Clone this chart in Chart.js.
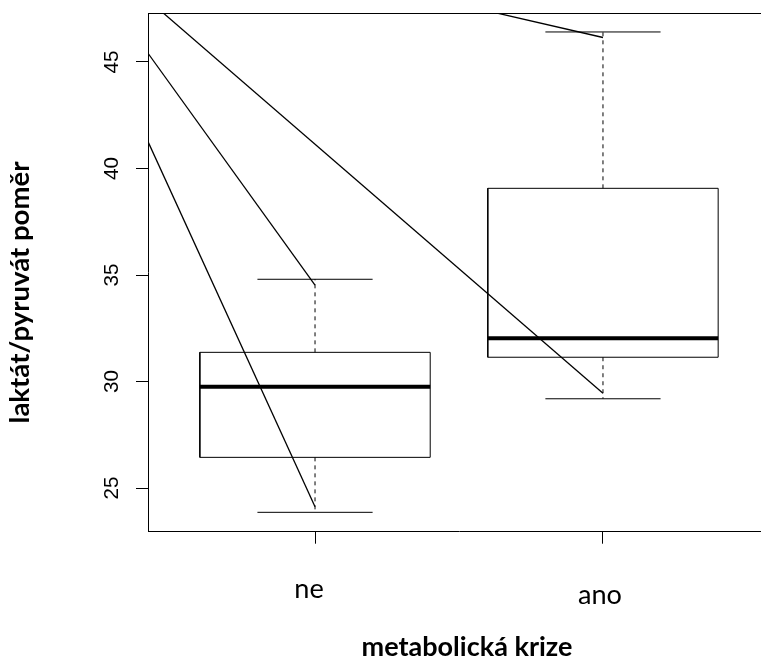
<!DOCTYPE html>
<html>
<head>
<meta charset="utf-8">
<script src="https://cdn.jsdelivr.net/npm/chart.js@4/dist/chart.umd.min.js"></script>
<style>
  html, body { margin: 0; padding: 0; overflow: hidden; background: #fff; }
  #wrap { width: 790px; height: 664px; }
</style>
</head>
<body>
<div id="wrap"><canvas id="chart" width="790" height="664"></canvas></div>
<script>
// Groups and five-number summaries of the lactate/pyruvate ratio
const categories   = ['ne', 'ano'];
const whiskerLow   = [23.86, 29.19];
const quartile1    = [26.44, 31.14];
const medians      = [29.76, 32.03];
const quartile3    = [31.37, 39.07];
const whiskerHigh  = [34.80, 46.41];

// Axis ticks and value range
const yTicks = [25, 30, 35, 40, 45];
const yRange = [22.95, 47.30];
const xRange = [0.42, 2.58];

// Straight connector lines: start value at x = 0, end group and value
const connectorStart = [53.67, 53.29, 52.83, 52.38];
const connectorGroup = [0, 0, 1, 1];
const connectorEnd   = [24.12, 34.53, 29.45, 46.15];

const xTitle = 'metabolická krize';
const yTitle = 'laktát/pyruvát poměr';

const BOX_HALF = 0.4;
const CAP_HALF = 0.2;

function seg(points, extra) {
  return Object.assign({
    data: points,
    showLine: true,
    pointRadius: 0,
    pointHoverRadius: 0,
    borderColor: '#000',
    borderWidth: 1,
    fill: false,
    tension: 0
  }, extra || {});
}

const datasets = [];
categories.forEach((name, i) => {
  const c = i + 1;
  // box
  datasets.push(seg([
    { x: c - BOX_HALF, y: quartile1[i] }, { x: c + BOX_HALF, y: quartile1[i] },
    { x: c + BOX_HALF, y: quartile3[i] }, { x: c - BOX_HALF, y: quartile3[i] },
    { x: c - BOX_HALF, y: quartile1[i] }
  ]));
  // median
  datasets.push(seg([{ x: c - BOX_HALF, y: medians[i] }, { x: c + BOX_HALF, y: medians[i] }], { borderWidth: 4 }));
  // whiskers
  datasets.push(seg([{ x: c, y: quartile3[i] }, { x: c, y: whiskerHigh[i] }], { borderDash: [4, 4] }));
  datasets.push(seg([{ x: c, y: quartile1[i] }, { x: c, y: whiskerLow[i] }], { borderDash: [4, 4] }));
  // caps
  datasets.push(seg([{ x: c - CAP_HALF, y: whiskerHigh[i] }, { x: c + CAP_HALF, y: whiskerHigh[i] }]));
  datasets.push(seg([{ x: c - CAP_HALF, y: whiskerLow[i] }, { x: c + CAP_HALF, y: whiskerLow[i] }]));
});
connectorStart.forEach((v, k) => {
  datasets.push(seg([{ x: 0, y: v }, { x: connectorGroup[k] + 1, y: connectorEnd[k] }], { borderWidth: 1.3 }));
});

// font size that makes `text` span `width` pixels
function fitSize(ctx, text, weight, family, width) {
  ctx.font = (weight ? weight + ' ' : '') + '100px ' + family;
  return 100 * width / ctx.measureText(text).width;
}

const LATO = 'Lato, "Open Sans", sans-serif';
const ARIAL = '"Liberation Sans", Arial, sans-serif';

const frameAndText = {
  id: 'frameAndText',
  afterDraw(chart) {
    const { ctx, chartArea: a, scales } = chart;
    const x = scales.x, y = scales.y;
    ctx.save();
    // top edge of the plot frame
    ctx.strokeStyle = '#000';
    ctx.lineWidth = 1;
    ctx.beginPath();
    const ty = Math.round(a.top) + 0.5;
    ctx.moveTo(a.left, ty);
    ctx.lineTo(a.right, ty);
    ctx.stroke();

    ctx.fillStyle = '#000';
    // y tick labels, vertical
    const tickSize = fitSize(ctx, '35', '', ARIAL, 23);
    ctx.font = tickSize.toFixed(2) + 'px ' + ARIAL;
    ctx.textAlign = 'center';
    ctx.textBaseline = 'alphabetic';
    yTicks.forEach(v => {
      ctx.save();
      ctx.translate(a.left - 30, y.getPixelForValue(v));
      ctx.rotate(-Math.PI / 2);
      ctx.fillText(String(v), 0, 0);
      ctx.restore();
    });

    // group labels
    const nudge = [{ dx: -6, dy: 66 }, { dx: -3, dy: 72 }];
    const catSize = fitSize(ctx, 'ano', '', LATO, 44);
    ctx.font = catSize.toFixed(2) + 'px ' + LATO;
    categories.forEach((name, i) => {
      ctx.fillText(name, x.getPixelForValue(i + 1) + nudge[i].dx, a.bottom + nudge[i].dy);
    });

    // axis titles
    const xs = fitSize(ctx, xTitle, 'bold', LATO, 211);
    ctx.font = 'bold ' + xs.toFixed(2) + 'px ' + LATO;
    ctx.fillText(xTitle, 467, 656);

    const ys = fitSize(ctx, yTitle, 'bold', LATO, 262);
    ctx.font = 'bold ' + ys.toFixed(2) + 'px ' + LATO;
    ctx.save();
    ctx.translate(28.5, 292.5);
    ctx.rotate(-Math.PI / 2);
    ctx.fillText(yTitle, 0, 0);
    ctx.restore();

    ctx.restore();
  }
};

const axisGrid = { drawOnChartArea: false, drawTicks: true, tickLength: 12, color: '#000', lineWidth: 1 };

new Chart(document.getElementById('chart'), {
  type: 'scatter',
  data: { datasets },
  options: {
    responsive: false,
    animation: false,
    devicePixelRatio: 1,
    events: [],
    layout: { padding: { left: 136, top: 13, right: 20, bottom: 120.3 } },
    plugins: { legend: { display: false }, tooltip: { enabled: false } },
    scales: {
      x: {
        type: 'linear',
        min: xRange[0], max: xRange[1],
        afterBuildTicks: s => { s.ticks = categories.map((_, i) => ({ value: i + 1 })); },
        afterFit: s => { s.height = 12; },
        ticks: { display: false },
        grid: axisGrid,
        border: { display: true, color: '#000', width: 1 }
      },
      y: {
        type: 'linear',
        min: yRange[0], max: yRange[1],
        afterBuildTicks: s => { s.ticks = yTicks.map(v => ({ value: v })); },
        afterFit: s => { s.width = 12; },
        ticks: { display: false },
        grid: axisGrid,
        border: { display: true, color: '#000', width: 1 }
      }
    }
  },
  plugins: [frameAndText]
});
</script>
</body>
</html>
